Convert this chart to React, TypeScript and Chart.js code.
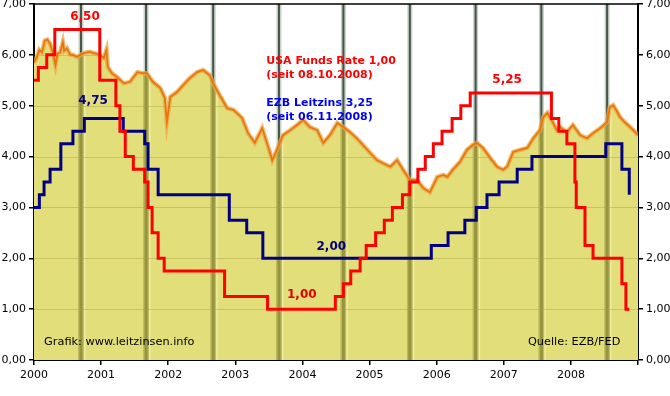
import { useEffect, useRef } from "react";
import { Chart, registerables } from "chart.js";

Chart.register(...registerables);

// ---- Data ----
const yearTickLabels = ["2000", "2001", "2002", "2003", "2004", "2005", "2006", "2007", "2008"];

// USA Federal Funds Rate (change points: date as decimal year, rate in %)
const fedDates = [2000.0, 2000.065, 2000.19, 2000.31, 2000.98, 2001.22, 2001.28, 2001.36, 2001.48, 2001.65, 2001.7, 2001.76, 2001.85, 2001.94, 2002.84, 2003.48, 2004.49, 2004.61, 2004.72, 2004.86, 2004.95, 2005.09, 2005.22, 2005.34, 2005.49, 2005.6, 2005.72, 2005.83, 2005.95, 2006.08, 2006.23, 2006.36, 2006.5, 2007.71, 2007.82, 2007.94, 2008.06, 2008.08, 2008.21, 2008.33, 2008.76, 2008.82, 2008.87];
const fedRates = [5.5, 5.75, 6.0, 6.5, 5.5, 5.0, 4.5, 4.0, 3.75, 3.5, 3.0, 2.5, 2.0, 1.75, 1.25, 1.0, 1.25, 1.5, 1.75, 2.0, 2.25, 2.5, 2.75, 3.0, 3.25, 3.5, 3.75, 4.0, 4.25, 4.5, 4.75, 5.0, 5.25, 4.75, 4.5, 4.25, 3.5, 3.0, 2.25, 2.0, 1.5, 1.0, 1.0];

// EZB Leitzins (change points)
const ecbDates = [2000.0, 2000.08, 2000.15, 2000.24, 2000.4, 2000.58, 2000.75, 2001.33, 2001.65, 2001.7, 2001.85, 2002.91, 2003.17, 2003.41, 2005.92, 2006.17, 2006.42, 2006.59, 2006.75, 2006.93, 2007.2, 2007.42, 2008.52, 2008.76, 2008.87];
const ecbRates = [3.0, 3.25, 3.5, 3.75, 4.25, 4.5, 4.75, 4.5, 4.25, 3.75, 3.25, 2.75, 2.5, 2.0, 2.25, 2.5, 2.75, 3.0, 3.25, 3.5, 3.75, 4.0, 4.25, 3.75, 3.25];

// Yield curve (filled area)
const bondDates = [2000.0, 2000.04, 2000.08, 2000.12, 2000.16, 2000.2, 2000.24, 2000.28, 2000.32, 2000.35, 2000.39, 2000.43, 2000.45, 2000.49, 2000.54, 2000.58, 2000.64, 2000.69, 2000.75, 2000.83, 2000.91, 2000.98, 2001.04, 2001.08, 2001.1, 2001.16, 2001.24, 2001.34, 2001.43, 2001.54, 2001.62, 2001.68, 2001.77, 2001.88, 2001.95, 2001.98, 2002.03, 2002.13, 2002.22, 2002.32, 2002.43, 2002.52, 2002.62, 2002.67, 2002.77, 2002.88, 2002.97, 2003.03, 2003.1, 2003.19, 2003.29, 2003.4, 2003.49, 2003.55, 2003.62, 2003.71, 2003.82, 2003.92, 2004.01, 2004.11, 2004.22, 2004.31, 2004.41, 2004.52, 2004.61, 2004.71, 2004.81, 2004.9, 2005.01, 2005.11, 2005.2, 2005.31, 2005.41, 2005.5, 2005.6, 2005.71, 2005.8, 2005.9, 2006.01, 2006.1, 2006.16, 2006.24, 2006.35, 2006.45, 2006.54, 2006.6, 2006.69, 2006.8, 2006.9, 2006.99, 2007.05, 2007.14, 2007.24, 2007.35, 2007.44, 2007.54, 2007.59, 2007.65, 2007.69, 2007.73, 2007.79, 2007.84, 2007.94, 2008.03, 2008.14, 2008.24, 2008.33, 2008.44, 2008.54, 2008.58, 2008.63, 2008.69, 2008.73, 2008.8, 2008.85, 2008.93, 2009.0];
const bondYields = [5.85, 5.95, 6.1, 6.05, 6.28, 6.3, 6.22, 6.05, 5.8, 6.02, 6.05, 6.25, 6.08, 6.13, 6.0, 6.0, 5.96, 6.0, 6.04, 6.06, 6.03, 6.0, 5.94, 6.1, 5.76, 5.64, 5.56, 5.44, 5.47, 5.66, 5.64, 5.64, 5.47, 5.35, 5.15, 4.68, 5.17, 5.27, 5.4, 5.54, 5.66, 5.7, 5.6, 5.44, 5.2, 4.95, 4.92, 4.85, 4.76, 4.46, 4.27, 4.56, 4.19, 3.93, 4.13, 4.42, 4.52, 4.62, 4.72, 4.58, 4.52, 4.27, 4.42, 4.66, 4.58, 4.48, 4.36, 4.23, 4.07, 3.93, 3.87, 3.8, 3.93, 3.74, 3.54, 3.54, 3.38, 3.3, 3.6, 3.64, 3.6, 3.74, 3.9, 4.13, 4.23, 4.27, 4.17, 3.97, 3.8, 3.74, 3.8, 4.09, 4.13, 4.17, 4.36, 4.52, 4.78, 4.86, 4.76, 4.68, 4.52, 4.58, 4.48, 4.62, 4.42, 4.36, 4.46, 4.56, 4.68, 4.97, 5.01, 4.88, 4.78, 4.68, 4.62, 4.52, 4.42];

// Background stripes (decimal years)
const stripeYears = [2000.7, 2001.67, 2002.67, 2003.65, 2004.61, 2005.6, 2006.58, 2007.56, 2008.54];

// Text labels (data coordinates)
const valueLabels = [
  { text: "6,50", x: 2000.76, y: 6.74, color: "#ff0000" },
  { text: "4,75", x: 2000.88, y: 5.09, color: "#000080" },
  { text: "2,00", x: 2004.43, y: 2.22, color: "#000080" },
  { text: "1,00", x: 2003.99, y: 1.28, color: "#e00000" },
  { text: "5,25", x: 2007.05, y: 5.51, color: "#ff0000" },
];
const infoLabels = [
  { text: "USA Funds Rate 1,00", x: 2003.46, y: 5.88, color: "#ff0000" },
  { text: "(seit 08.10.2008)", x: 2003.46, y: 5.6, color: "#ff0000" },
  { text: "EZB Leitzins 3,25", x: 2003.46, y: 5.05, color: "#0000ee" },
  { text: "(seit 06.11.2008)", x: 2003.46, y: 4.78, color: "#0000ee" },
];
const footerLabels = [
  { text: "Grafik: www.leitzinsen.info", x: 2000.15, y: 0.35 },
  { text: "Quelle: EZB/FED", x: 2007.36, y: 0.35 },
];

const FONT = '"DejaVu Sans", Verdana, sans-serif';
const YELLOW = "rgb(226,222,122)";

const BOND_INDEX = 3;

const decorPlugin = {
  id: "decor",
  beforeDatasetDraw(chart: any, args: any) {
    if (args.index !== BOND_INDEX) return;
    const { ctx, chartArea } = chart;
    const xs = chart.scales.x;
    const ys = chart.scales.y;
    const top = chartArea.top;
    const h = chartArea.bottom - chartArea.top;
    ctx.save();
    // stripes over white region
    stripeYears.forEach((yr) => {
      const px = xs.getPixelForValue(yr);
      ctx.fillStyle = "rgba(150,168,150,0.55)";
      ctx.fillRect(px - 2.5, top, 5, h);
      ctx.fillStyle = "#46544a";
      ctx.fillRect(px - 1, top, 2, h);
    });
    // clip to area below curve
    const pts = chart.getDatasetMeta(BOND_INDEX).data;
    ctx.beginPath();
    ctx.moveTo(pts[0].x, chartArea.bottom);
    pts.forEach((p: any) => ctx.lineTo(p.x, p.y));
    ctx.lineTo(pts[pts.length - 1].x, chartArea.bottom);
    ctx.closePath();
    ctx.clip();
    stripeYears.forEach((yr) => {
      const px = xs.getPixelForValue(yr);
      ctx.fillStyle = YELLOW;
      ctx.fillRect(px - 3, top, 6, h);
      ctx.fillStyle = "rgb(190,186,95)";
      ctx.fillRect(px - 3, top, 6, h);
      ctx.fillStyle = "rgb(150,148,60)";
      ctx.fillRect(px - 1.5, top, 3, h);
      ctx.fillStyle = "rgb(238,236,165)";
      ctx.fillRect(px + 3, top, 1.5, h);
    });
    // faint horizontal grid lines
    ctx.strokeStyle = "rgba(170,160,70,0.45)";
    ctx.lineWidth = 1;
    for (let v = 1; v <= 6; v++) {
      const py = Math.round(ys.getPixelForValue(v)) + 0.5;
      ctx.beginPath();
      ctx.moveTo(chartArea.left, py);
      ctx.lineTo(chartArea.right, py);
      ctx.stroke();
    }
    ctx.restore();
  },
  afterDatasetsDraw(chart: any) {
    const { ctx, chartArea } = chart;
    const xs = chart.scales.x;
    const ys = chart.scales.y;
    ctx.save();
    // top frame line
    ctx.strokeStyle = "#000";
    ctx.lineWidth = 1.5;
    ctx.beginPath();
    ctx.moveTo(chartArea.left, chartArea.top);
    ctx.lineTo(chartArea.right, chartArea.top);
    ctx.stroke();

    ctx.textBaseline = "middle";
    ctx.font = `bold 12px ${FONT}`;
    ctx.textAlign = "center";
    valueLabels.forEach((l) => {
      ctx.fillStyle = l.color;
      ctx.fillText(l.text, xs.getPixelForValue(l.x), ys.getPixelForValue(l.y));
    });
    ctx.font = `bold 11px ${FONT}`;
    ctx.textAlign = "left";
    infoLabels.forEach((l) => {
      ctx.fillStyle = l.color;
      ctx.fillText(l.text, xs.getPixelForValue(l.x), ys.getPixelForValue(l.y));
    });
    ctx.font = `11.3px ${FONT}`;
    ctx.fillStyle = "#000";
    footerLabels.forEach((l) => {
      ctx.fillText(l.text, xs.getPixelForValue(l.x), ys.getPixelForValue(l.y));
    });
    ctx.restore();
  },
};

const yTick = (v: any) => Number(v).toFixed(2).replace(".", ",");

export default function App() {
  const ref = useRef<HTMLCanvasElement>(null);
  useEffect(() => {
    const canvas = ref.current;
    if (!canvas) return;
    const stepLine = (dates: number[], rates: number[], color: string, order: number) => ({
      data: dates.map((d, i) => ({ x: d, y: rates[i] })),
      stepped: "before" as const,
      borderColor: color,
      borderWidth: 3,
      pointRadius: 0,
      fill: false,
      order,
      yAxisID: "y",
    });
    const bondPoints = bondDates.map((d, i) => ({ x: d, y: bondYields[i] }));
    const chart = new Chart(canvas, {
      type: "line",
      data: {
        datasets: [
          stepLine(fedDates, fedRates, "#ff0000", 0) as any,
          stepLine(ecbDates, ecbRates, "#000080", 1) as any,
          {
            // orange core line
            data: bondPoints,
            borderColor: "#e2780f",
            borderWidth: 1.8,
            fill: false,
            pointRadius: 0,
            tension: 0,
            order: 3,
            yAxisID: "y",
          },
          {
            // glow + filled area
            data: bondPoints,
            borderColor: "rgba(240,165,70,0.75)",
            borderWidth: 4.5,
            backgroundColor: YELLOW,
            fill: "origin",
            pointRadius: 0,
            tension: 0,
            order: 5,
            yAxisID: "y",
          },
        ],
      },
      options: {
        animation: false,
        responsive: false,
        devicePixelRatio: 1,
        layout: { padding: { top: 4, left: 0, right: 0, bottom: 0 } },
        plugins: { legend: { display: false }, tooltip: { enabled: false } },
        scales: {
          x: {
            type: "linear",
            min: 2000,
            max: 2009,
            position: "bottom",
            ticks: {
              stepSize: 1,
              autoSkip: false,
              maxRotation: 0,
              padding: 4,
              color: "#000",
              font: { family: FONT, size: 11 },
              callback: (v: any) => {
                const idx = Math.round(Number(v)) - 2000;
                return yearTickLabels[idx] ?? "";
              },
            },
            grid: { drawOnChartArea: false, drawTicks: true, tickLength: 5, color: "#000", lineWidth: 1.5 },
            border: { color: "#000", width: 2 },
            afterFit: (s: any) => {
              s.height = 36;
              s.paddingLeft = 0;
              s.paddingRight = 0;
            },
          },
          y: {
            type: "linear",
            min: 0,
            max: 7,
            position: "left",
            ticks: { stepSize: 1, padding: 3, color: "#000", font: { family: FONT, size: 11 }, callback: yTick },
            grid: { drawOnChartArea: false, drawTicks: true, tickLength: 5, color: "#000", lineWidth: 1.5 },
            border: { color: "#000", width: 2 },
            afterFit: (s: any) => {
              s.width = 34;
              s.paddingTop = 0;
              s.paddingBottom = 0;
            },
          },
          y2: {
            type: "linear",
            min: 0,
            max: 7,
            position: "right",
            ticks: { stepSize: 1, padding: 3, color: "#000", font: { family: FONT, size: 11 }, callback: yTick },
            grid: { drawOnChartArea: false, drawTicks: true, tickLength: 5, color: "#000", lineWidth: 1.5 },
            border: { color: "#000", width: 2 },
            afterFit: (s: any) => {
              s.width = 32;
              s.paddingTop = 0;
              s.paddingBottom = 0;
            },
          },
        },
      } as any,
      plugins: [decorPlugin],
    });
    return () => chart.destroy();
  }, []);
  return (
    <div style={{ position: "absolute", left: 0, top: 0, width: 670, height: 396, background: "#fff" }}>
      <canvas ref={ref} width={670} height={396} style={{ width: 670, height: 396, display: "block" }} />
    </div>
  );
}
